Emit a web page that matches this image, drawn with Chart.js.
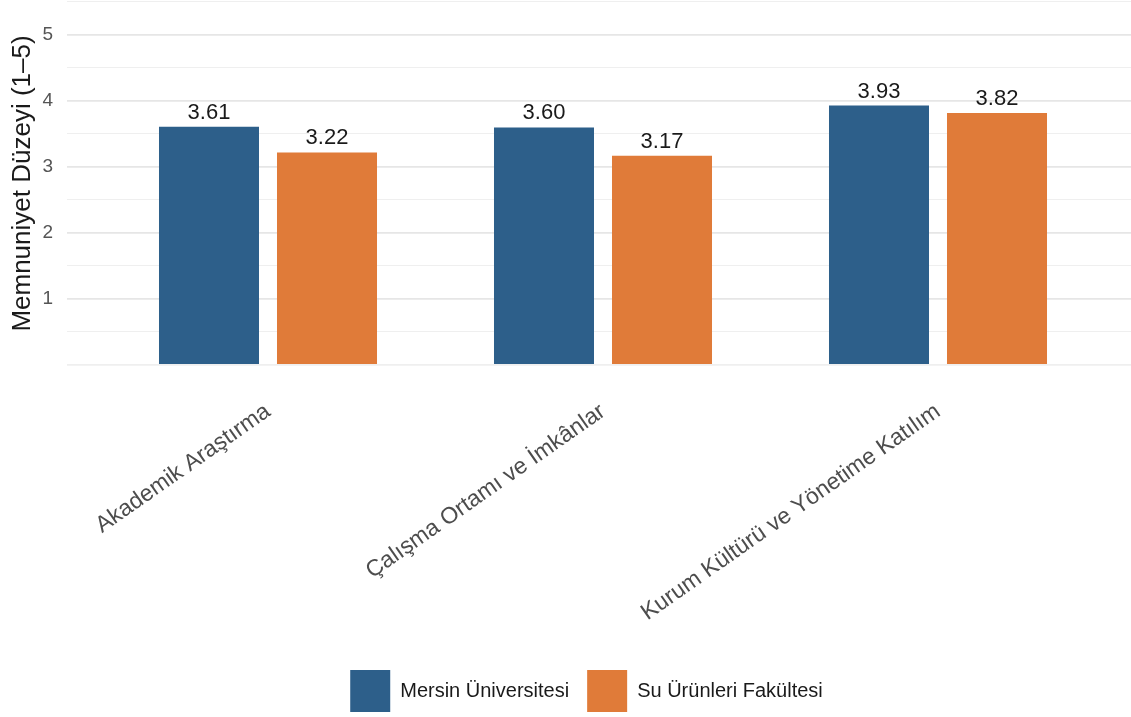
<!DOCTYPE html>
<html lang="tr">
<head>
<meta charset="utf-8">
<title>Memnuniyet Düzeyi</title>
<script src="https://cdn.jsdelivr.net/npm/chart.js@4.4.1/dist/chart.umd.min.js"></script>
<style>
  html, body { margin: 0; padding: 0; background: #ffffff; }
  #wrap { width: 1131px; height: 717px; }
</style>
</head>
<body>
<div id="wrap"><canvas id="satisfactionChart" width="1131" height="717"></canvas></div>
<script>
// Chart data
const categories = ['Akademik Araştırma', 'Çalışma Ortamı ve İmkânlar', 'Kurum Kültürü ve Yönetime Katılım'];
const seriesNames = ['Mersin Üniversitesi', 'Su Ürünleri Fakültesi'];
const mersinScores = [3.61, 3.60, 3.93];
const suUrunleriScores = [3.22, 3.17, 3.82];
const yTickLabels = [1, 2, 3, 4, 5];
const yAxisTitle = 'Memnuniyet Düzeyi (1–5)';

const FONT = '"Liberation Sans", Arial, sans-serif';
const BLUE = '#2d5f8a';
const ORANGE = '#e07b39';

// Value labels above each bar
const barValueLabels = {
    id: 'barValueLabels',
    afterDatasetsDraw(chart) {
        const ctx = chart.ctx;
        ctx.save();
        ctx.font = '22px ' + FONT;
        ctx.fillStyle = '#1a1a1a';
        ctx.textAlign = 'center';
        ctx.textBaseline = 'alphabetic';
        chart.data.datasets.forEach((ds, i) => {
            chart.getDatasetMeta(i).data.forEach((bar, j) => {
                ctx.fillText(ds.data[j].toFixed(2), bar.x, bar.y - 8);
            });
        });
        ctx.restore();
    }
};

// Nudge the legend a bit to the right (it is centred on the full-width plot in the original)
const legendShift = {
    id: 'legendShift',
    afterLayout(chart) {
        chart.legend.left += 42;
    }
};

const ctx = document.getElementById('satisfactionChart').getContext('2d');

window.myChart = new Chart(ctx, {
    type: 'bar',
    data: {
        labels: categories,
        datasets: [
            {
                label: seriesNames[0],
                data: mersinScores,
                backgroundColor: BLUE,
                borderWidth: 0,
                categoryPercentage: 0.7045,
                barPercentage: 0.8475
            },
            {
                label: seriesNames[1],
                data: suUrunleriScores,
                backgroundColor: ORANGE,
                borderWidth: 0,
                categoryPercentage: 0.7045,
                barPercentage: 0.8475
            }
        ]
    },
    options: {
        responsive: false,
        animation: false,
        layout: {
            padding: { top: 2, right: 0, bottom: -5, left: 0 }
        },
        plugins: {
            tooltip: { enabled: false },
            legend: {
                position: 'bottom',
                labels: {
                    boxWidth: 40,
                    boxHeight: 42,
                    padding: 18,
                    color: '#1a1a1a',
                    font: { family: FONT, size: 20 }
                }
            }
        },
        scales: {
            x: {
                grid: { display: false },
                border: { display: false },
                ticks: {
                    color: '#4d4d4d',
                    font: { family: FONT, size: 23 },
                    minRotation: 35,
                    maxRotation: 35,
                    autoSkip: false,
                    padding: 25
                },
                // widen the outer margins like a discrete ggplot axis (0.6 of a slot each side)
                afterBuildTicks: scale => {
                    scale._startValue = -0.6;
                    scale._valueRange = 1064 / 335;
                },
                afterFit: scale => {
                    scale.height = 287;
                    scale.paddingLeft = 0;
                    scale.paddingRight = 0;
                }
            },
            y: {
                min: 0,
                max: 5.5,
                border: { display: false },
                grid: {
                    drawTicks: false,
                    color: c => Number.isInteger(c.tick.value) && c.tick.value > 0 ? '#e6e6e6' : '#efefef',
                    lineWidth: c => Number.isInteger(c.tick.value) ? 1.8 : 1.1
                },
                ticks: {
                    stepSize: 0.5,
                    autoSkip: false,
                    padding: 14,
                    color: '#555555',
                    font: { family: FONT, size: 19 },
                    callback: value => yTickLabels.includes(value) ? String(value) : ''
                },
                title: {
                    display: true,
                    text: yAxisTitle,
                    color: '#1a1a1a',
                    font: { family: FONT, size: 26 },
                    padding: { top: 7, bottom: 0 }
                },
                afterFit: scale => {
                    scale.width = 67;
                    scale.paddingTop = 0;
                    scale.paddingBottom = 0;
                }
            }
        }
    },
    plugins: [barValueLabels, legendShift]
});
</script>
</body>
</html>
